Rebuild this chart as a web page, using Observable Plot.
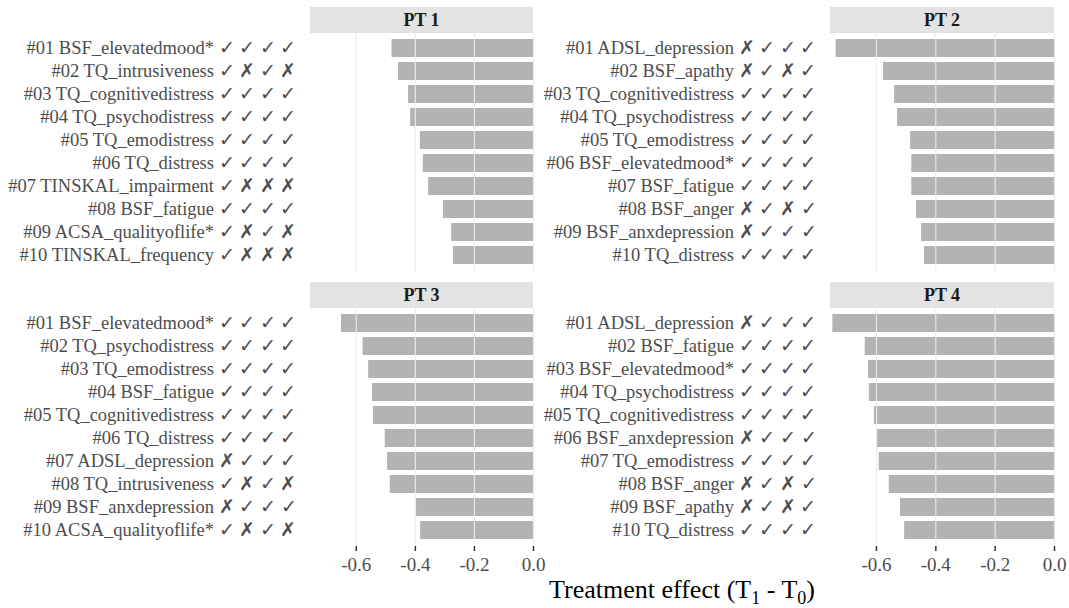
<!DOCTYPE html>
<html><head><meta charset="utf-8">
<script src="https://cdn.jsdelivr.net/npm/d3@7"></script>
<script src="https://cdn.jsdelivr.net/npm/@observablehq/plot@0.6"></script>
<style>
body{margin:0;background:#fff;}
#root{position:relative;width:1069px;height:608px;overflow:hidden;font-family:"Liberation Serif",serif;}
.strip{position:absolute;background:#e3e3e3;color:#1a1a1a;font-weight:bold;font-size:18px;text-align:center;display:flex;align-items:center;justify-content:center;}
.pane{position:absolute;}
.pane svg{overflow:visible;}
.xtitle{position:absolute;left:310px;width:744px;top:577px;line-height:26px;text-align:center;font-size:26px;color:#000;}
.xtitle sub{font-size:18px;vertical-align:-6px;line-height:0;}
</style></head><body><div id="root"></div>
<script>
const pt1Labels = ["#01 BSF_elevatedmood* ✓ ✓ ✓ ✓","#02 TQ_intrusiveness ✓ ✗ ✓ ✗","#03 TQ_cognitivedistress ✓ ✓ ✓ ✓","#04 TQ_psychodistress ✓ ✓ ✓ ✓","#05 TQ_emodistress ✓ ✓ ✓ ✓","#06 TQ_distress ✓ ✓ ✓ ✓","#07 TINSKAL_impairment ✓ ✗ ✗ ✗","#08 BSF_fatigue ✓ ✓ ✓ ✓","#09 ACSA_qualityoflife* ✓ ✗ ✓ ✗","#10 TINSKAL_frequency ✓ ✗ ✗ ✗"];
const pt1Values = [-0.479,-0.457,-0.423,-0.416,-0.383,-0.373,-0.355,-0.305,-0.277,-0.271];

const pt2Labels = ["#01 ADSL_depression ✗ ✓ ✓ ✓","#02 BSF_apathy ✗ ✓ ✗ ✓","#03 TQ_cognitivedistress ✓ ✓ ✓ ✓","#04 TQ_psychodistress ✓ ✓ ✓ ✓","#05 TQ_emodistress ✓ ✓ ✓ ✓","#06 BSF_elevatedmood* ✓ ✓ ✓ ✓","#07 BSF_fatigue ✓ ✓ ✓ ✓","#08 BSF_anger ✗ ✓ ✗ ✓","#09 BSF_anxdepression ✗ ✓ ✓ ✓","#10 TQ_distress ✓ ✓ ✓ ✓"];
const pt2Values = [-0.736,-0.576,-0.539,-0.529,-0.485,-0.481,-0.481,-0.465,-0.448,-0.438];

const pt3Labels = ["#01 BSF_elevatedmood* ✓ ✓ ✓ ✓","#02 TQ_psychodistress ✓ ✓ ✓ ✓","#03 TQ_emodistress ✓ ✓ ✓ ✓","#04 BSF_fatigue ✓ ✓ ✓ ✓","#05 TQ_cognitivedistress ✓ ✓ ✓ ✓","#06 TQ_distress ✓ ✓ ✓ ✓","#07 ADSL_depression ✗ ✓ ✓ ✓","#08 TQ_intrusiveness ✓ ✗ ✓ ✗","#09 BSF_anxdepression ✗ ✓ ✓ ✓","#10 ACSA_qualityoflife* ✓ ✗ ✓ ✗"];
const pt3Values = [-0.650,-0.577,-0.558,-0.545,-0.542,-0.502,-0.494,-0.485,-0.396,-0.382];

const pt4Labels = ["#01 ADSL_depression ✗ ✓ ✓ ✓","#02 BSF_fatigue ✓ ✓ ✓ ✓","#03 BSF_elevatedmood* ✓ ✓ ✓ ✓","#04 TQ_psychodistress ✓ ✓ ✓ ✓","#05 TQ_cognitivedistress ✓ ✓ ✓ ✓","#06 BSF_anxdepression ✗ ✓ ✓ ✓","#07 TQ_emodistress ✓ ✓ ✓ ✓","#08 BSF_anger ✗ ✓ ✗ ✓","#09 BSF_apathy ✗ ✓ ✗ ✓","#10 TQ_distress ✓ ✓ ✓ ✓"];
const pt4Values = [-0.747,-0.638,-0.627,-0.624,-0.607,-0.596,-0.591,-0.557,-0.519,-0.505];

const panelTitles = ["PT 1","PT 2","PT 3","PT 4"];
const xTicks = [-0.6,-0.4,-0.2,0.0];
const xDomain = [-0.755,0];

const root = document.getElementById("root");

function panel(labels, values, o) {
  const data = labels.map((l,i)=>({label:l, value:values[i]}));
  const marks = [
    Plot.barX(data, {x:"value", y:"label", fill:"#b3b3b3"}),
    Plot.ruleX(xTicks, {stroke:"#ebebeb", strokeWidth:1.1}),
    Plot.axisY({tickSize:0, tickPadding:14, fill:"#4d4d4d", label:null, fontSize:18.5})
  ];
  if (o.axis) marks.push(Plot.axisX({ticks:xTicks, tickFormat:d=>d.toFixed(1), tickSize:5, tickPadding:6, stroke:"#333", strokeWidth:1.5, fill:"#4d4d4d", label:null, fontSize:19}));
  const svg = Plot.plot({
    width:o.width, height:o.height,
    marginLeft:o.ml, marginRight:o.mr, marginTop:0, marginBottom:o.axis?34:0,
    style:{fontFamily:'"Liberation Serif", serif', fontSize:"18px", background:"transparent", overflow:"visible"},
    x:{domain:xDomain, axis:null},
    y:{domain:labels, padding:0.2, axis:null},
    marks
  });
  const div = document.createElement("div");
  div.className = "pane";
  div.style.left = o.left+"px"; div.style.top = o.top+"px";
  div.appendChild(svg);
  root.appendChild(div);
  const s = document.createElement("div");
  s.className = "strip";
  s.textContent = o.title;
  s.style.left = (o.left+o.ml)+"px";
  s.style.width = (o.width-o.ml-o.mr)+"px";
  s.style.top = o.stripTop+"px";
  s.style.height = "26px";
  root.appendChild(s);
}

panel(pt1Labels, pt1Values, {title:panelTitles[0], left:0, top:33, width:560, height:238, ml:310, mr:27, stripTop:7, axis:false});
panel(pt2Labels, pt2Values, {title:panelTitles[1], left:540, top:33, width:529, height:238, ml:290, mr:15, stripTop:7, axis:false});
panel(pt3Labels, pt3Values, {title:panelTitles[2], left:0, top:308, width:560, height:272, ml:310, mr:27, stripTop:282, axis:true});
panel(pt4Labels, pt4Values, {title:panelTitles[3], left:540, top:308, width:529, height:272, ml:290, mr:15, stripTop:282, axis:true});

const t = document.createElement("div");
t.className = "xtitle";
t.innerHTML = "Treatment effect (T<sub>1</sub> - T<sub>0</sub>)";
root.appendChild(t);
</script>
</body></html>
